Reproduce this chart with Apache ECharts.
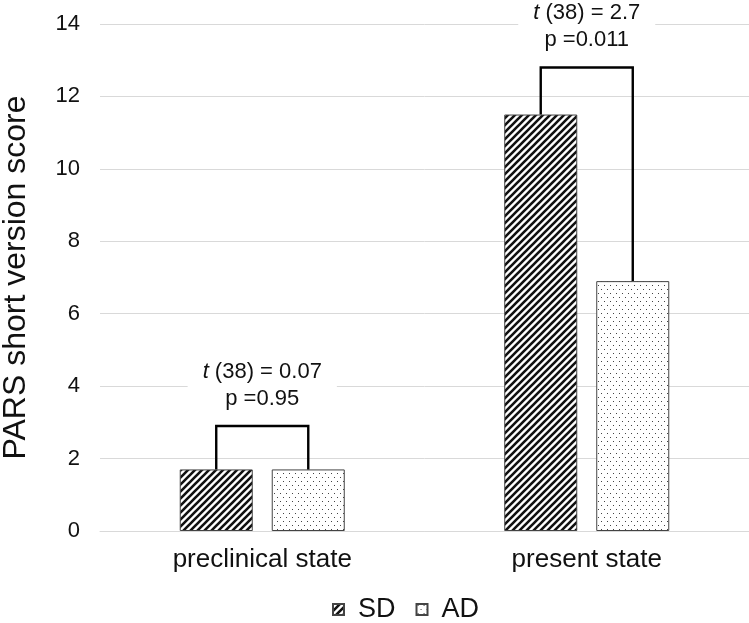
<!DOCTYPE html>
<html><head><meta charset="utf-8">
<script src="https://cdn.jsdelivr.net/npm/echarts@6/dist/echarts.min.js"></script>
<style>html,body{margin:0;padding:0;background:#fff}#c{width:749px;height:623px}</style>
</head><body><div id="c"></div>
<script>
const categories = ['preclinical state', 'present state'];
const seriesNames = ['SD', 'AD'];
const sdValues = [1.7, 11.5];
const adValues = [1.7, 6.9];
const bracketHeights = [2.9, 12.8];
const tStats = ['0.07', '2.7'];
const pStats = ['0.95', '0.011'];
const yMin = 0, yMax = 14, yInterval = 2;

function hatchPattern() {
  const s = 7, c = document.createElement('canvas');
  c.width = c.height = s;
  const g = c.getContext('2d');
  g.fillStyle = '#fff'; g.fillRect(0, 0, s, s);
  g.strokeStyle = '#111'; g.lineWidth = 2.6;
  g.beginPath();
  g.moveTo(-1, s + 1); g.lineTo(s + 1, -1);
  g.moveTo(-2, 2); g.lineTo(2, -2);
  g.moveTo(s - 2, s + 2); g.lineTo(s + 2, s - 2);
  g.stroke();
  return c;
}
function dotPattern() {
  const c = document.createElement('canvas');
  c.width = 6; c.height = 8;
  const g = c.getContext('2d');
  g.fillStyle = '#fff'; g.fillRect(0, 0, 6, 8);
  g.fillStyle = '#444';
  g.fillRect(1, 1, 1, 1);
  g.fillRect(4, 5, 1, 1);
  return c;
}

const font = 'Liberation Sans';
const chart = echarts.init(document.getElementById('c'), null, {renderer: 'canvas'});
const bracketData = categories.map((c, i) => [i, bracketHeights[i], sdValues[i], adValues[i]]);

chart.setOption({
  animation: false,
  backgroundColor: '#fff',
  textStyle: {fontFamily: font},
  grid: {left: 100, right: 0, top: 24, bottom: 92, containLabel: false, outerBoundsMode: 'none'},
  legend: {
    data: seriesNames, top: 591, left: 327, icon: 'rect',
    itemWidth: 11, itemHeight: 11, itemGap: 20,
    textStyle: {fontSize: 27, color: '#111', fontFamily: font, padding: [0, 0, 0, 9]}
  },
  xAxis: {
    type: 'category', data: categories,
    axisLine: {lineStyle: {color: '#d9d9d9'}},
    axisTick: {show: false},
    axisLabel: {fontSize: 26, color: '#111', margin: 16}
  },
  yAxis: {
    type: 'value', min: yMin, max: yMax, interval: yInterval,
    name: 'PARS short version score', nameLocation: 'middle', nameGap: 68,
    nameTextStyle: {fontSize: 32, color: '#111'},
    axisLine: {show: false}, axisTick: {show: false},
    axisLabel: {fontSize: 22, color: '#111', margin: 20},
    splitLine: {lineStyle: {color: '#d9d9d9'}}
  },
  series: [
    {
      name: 'SD', type: 'bar', data: sdValues, barWidth: '22.5%', barGap: '26%',
      itemStyle: {color: {image: hatchPattern(), repeat: 'repeat'}, borderColor: '#444', borderWidth: 1}
    },
    {
      name: 'AD', type: 'bar', data: adValues, barWidth: '22.5%', barGap: '26%',
      itemStyle: {color: {image: dotPattern(), repeat: 'repeat'}, borderColor: '#444', borderWidth: 1}
    },
    {
      type: 'custom', data: bracketData, z: 5, clip: false,
      renderItem(params, api) {
        const i = api.value(0);
        const band = api.size([1, 0])[0];
        const off = band * 0.1418;
        const top = api.coord([i, api.value(1)]);
        const l = api.coord([i, api.value(2)]);
        const r = api.coord([i, api.value(3)]);
        const xl = top[0] - off, xr = top[0] + off;
        return {
          type: 'group',
          children: [
            {
              type: 'polyline',
              shape: {points: [[xl, l[1]], [xl, top[1]], [xr, top[1]], [xr, r[1]]]},
              style: {stroke: '#000', lineWidth: 2.4, fill: null}
            },
            {
              type: 'text',
              style: {
                x: top[0], y: top[1] - 14,
                text: '{i|t} (38) = ' + tStats[i] + '\np =' + pStats[i],
                align: 'center', verticalAlign: 'bottom',
                fontSize: 22, fontFamily: font, fill: '#111', lineHeight: 27,
                backgroundColor: '#fff', padding: [2, 15, 0, 15],
                rich: {i: {fontStyle: 'italic', fontSize: 22, fontFamily: font, fill: '#111', lineHeight: 27}}
              }
            }
          ]
        };
      }
    }
  ]
});
</script></body></html>
